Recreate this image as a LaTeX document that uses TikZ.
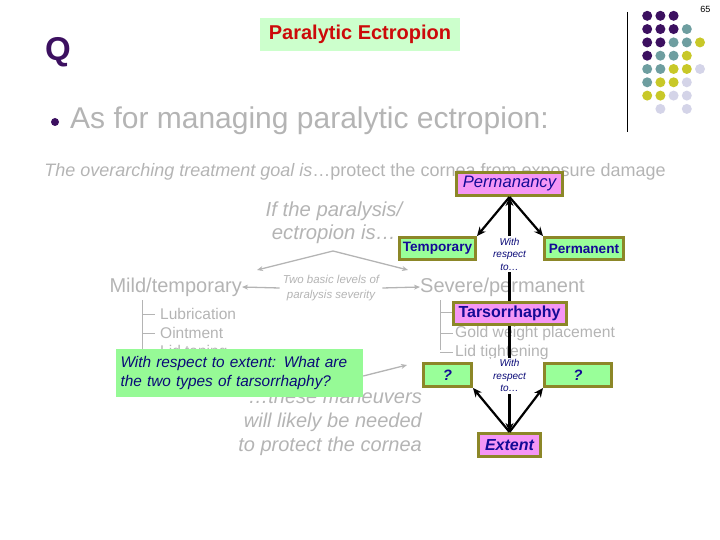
\documentclass[tikz,border=0pt]{standalone}
\usepackage{fontspec}
\setmainfont{Liberation Sans}
\usetikzlibrary{arrows.meta}
\definecolor{qpurple}{RGB}{60,16,96}
\definecolor{dteal}{RGB}{110,158,160}
\definecolor{dyellow}{RGB}{200,200,40}
\definecolor{dlav}{RGB}{212,212,232}
\definecolor{gtxt}{RGB}{180,180,180}
\definecolor{pinkfill}{RGB}{245,150,245}
\definecolor{greenfill}{RGB}{153,255,153}
\definecolor{olivebd}{RGB}{140,135,40}
\definecolor{dblue}{RGB}{20,10,150}
\definecolor{navy}{RGB}{10,10,120}
\definecolor{titlegreen}{RGB}{204,255,204}
\definecolor{titlered}{RGB}{204,10,10}
\definecolor{callgreen}{RGB}{150,250,150}
\tikzset{
  gtext/.style={text=gtxt, inner sep=0pt},
  garrow/.style={draw=gtxt, line width=1.3pt, -{Stealth[length=6pt,width=5pt]}},
  gline/.style={draw=gtxt, line width=0.8pt},
  kbox/.style={draw=olivebd, line width=3pt, inner sep=0pt, text=dblue},
  pinkbox/.style={kbox, fill=pinkfill},
  greenbox/.style={kbox, fill=greenfill},
  karrow/.style={draw=black, line width=2.2pt, -{Stealth[length=9pt,width=8pt]}},
  wrt/.style={fill=white, text=navy, font=\itshape\fontsize{10}{12.5}\selectfont, align=center, inner sep=2pt}
}
\begin{document}
\begin{tikzpicture}[x=1pt,y=-1pt]
\useasboundingbox (0,0) rectangle (720,540);
% page number and decoration
\node[font=\fontsize{9}{10}\selectfont, anchor=east] (pg) at (714,9) {65};
\draw[line width=0.8pt] (627,12) -- (627,132);
\foreach \c/\xi/\yi in {
 qpurple/1/1, qpurple/2/1, qpurple/3/1,
 qpurple/1/2, qpurple/2/2, qpurple/3/2, dteal/4/2,
 qpurple/1/3, qpurple/2/3, dteal/3/3, dteal/4/3, dyellow/5/3,
 qpurple/1/4, dteal/2/4, dteal/3/4, dyellow/4/4,
 dteal/1/5, dteal/2/5, dyellow/3/5, dyellow/4/5, dlav/5/5,
 dteal/1/6, dyellow/2/6, dyellow/3/6, dlav/4/6,
 dyellow/1/7, dyellow/2/7, dlav/3/7, dlav/4/7,
 dlav/2/8, dlav/4/8}
 {\fill[\c] ({634+13.2*\xi},{2.5+13.3*\yi}) circle (5);}
% Q and title
\node[text=qpurple, font=\bfseries\fontsize{33}{35}\selectfont] (q) at (58,52) {Q};
\node[fill=titlegreen, minimum width=200pt, minimum height=33pt, inner sep=0pt,
      text=titlered, font=\bfseries\fontsize{20}{23}\selectfont] (title) at (360,34.5) {Paralytic Ectropion};
\fill[qpurple] (55,122) circle (4);
\node[gtext, anchor=west, font=\fontsize{30}{33}\selectfont] (bul) at (70,121) {As for managing paralytic ectropion:};
\node[gtext, font=\fontsize{18}{21}\selectfont] (goal) at (355,172) {\textit{The overarching treatment goal is}…protect the cornea from exposure damage};
% grey background diagram
\node[gtext, align=center, font=\itshape\fontsize{20.3}{23.5}\selectfont] (ifp) at (334,223) {If the paralysis/\\ectropion is…};
\coordinate (apex) at (333,251);
\coordinate (lend) at (257,270);
\coordinate (rend) at (408,270);
\draw[garrow] (apex) -- (lend);
\draw[garrow] (apex) -- (rend);
\node[gtext, anchor=east, font=\fontsize{20}{24}\selectfont] (mild) at (242,287) {Mild/temporary};
\node[gtext, anchor=west, font=\fontsize{20}{24}\selectfont] (severe) at (420,287) {Severe/permanent};
\node[gtext, align=center, font=\itshape\fontsize{11.5}{15.5}\selectfont] (two) at (331,288) {Two basic levels of\\paralysis severity};
\draw[garrow] (two.west) ++(-3,0) -- (mild.east);
\draw[garrow] (two.east) ++(3,0) -- (severe.west);
% left tree
\draw[gline] (142,300) -- (142,352);
\foreach \yy/\tt in {314/Lubrication, 333/Ointment, 352/Lid taping}{
  \draw[gline] (142,\yy) -- (155,\yy);
  \node[gtext, anchor=west, font=\fontsize{15.5}{18}\selectfont] at (160,\yy) {\tt};
}
% right tree
\draw[gline] (440,300) -- (440,350);
\foreach \yy/\tt in {333/Gold weight placement, 352/Lid tightening}{
  \draw[gline] (440,\yy) -- (453,\yy);
  \node[gtext, anchor=west, font=\fontsize{15.7}{18}\selectfont] at (455,\yy) {\tt};
}
\draw[gline] (440,312) -- (453,312);
\node[gtext, anchor=east, align=right, font=\itshape\fontsize{20}{24}\selectfont] (man) at (422,422) {…these maneuvers\\will likely be needed\\to protect the cornea};
% main boxes
\node[pinkbox, minimum width=106pt, minimum height=23pt, font=\itshape\fontsize{16.6}{19}\selectfont] (perm) at (509.5,184) {Permanancy};
\node[greenbox, minimum width=76pt, minimum height=22pt, font=\bfseries\fontsize{13.6}{16}\selectfont] (temp) at (437.5,248.5) {Temporary};
\node[greenbox, minimum width=79pt, minimum height=22pt, font=\bfseries\fontsize{13.6}{16}\selectfont] (pmt) at (584,248.5) {Permanent};
\node[pinkbox, minimum width=113pt, minimum height=22pt, font=\bfseries\fontsize{16}{19}\selectfont] (tars) at (509.5,313.5) {Tarsorrhaphy};
\node[greenbox, minimum width=48pt, minimum height=23pt, font=\bfseries\itshape\fontsize{15}{18}\selectfont] (qa) at (447.5,375) {?};
\node[greenbox, minimum width=67pt, minimum height=23pt, font=\bfseries\itshape\fontsize{15}{18}\selectfont] (qb) at (578,375) {?};
\node[pinkbox, minimum width=62pt, minimum height=23pt, font=\bfseries\itshape\fontsize{16}{19}\selectfont] (ext) at (509.5,445) {Extent};
% arrows
\draw[karrow] (perm.south) -- (temp.north east);
\draw[karrow] (perm.south) -- (pmt.north west);
\draw[karrow] (tars.north) -- node[wrt, pos=0.45] (w1) {With\\respect\\to…} (perm.south);
\draw[karrow] (ext.north) -- (qa.south east);
\draw[karrow] (ext.north) -- (qb.south west);
\draw[karrow] (tars.south) -- node[wrt, pos=0.47] (w2) {With\\respect\\to…} (ext.north);
% callout
\node[fill=callgreen, minimum width=247pt, minimum height=48pt, text width=238pt, inner sep=4.5pt, align=left,
      text=navy, font=\itshape\fontsize{15.4}{19}\selectfont] (call) at (239.5,373) {With respect to extent: What are\\the two types of tarsorrhaphy?};
\coordinate (ctip) at (407,365);
\draw[garrow] (call.east) ++(0,3) -- (ctip);
\end{tikzpicture}
\end{document}
